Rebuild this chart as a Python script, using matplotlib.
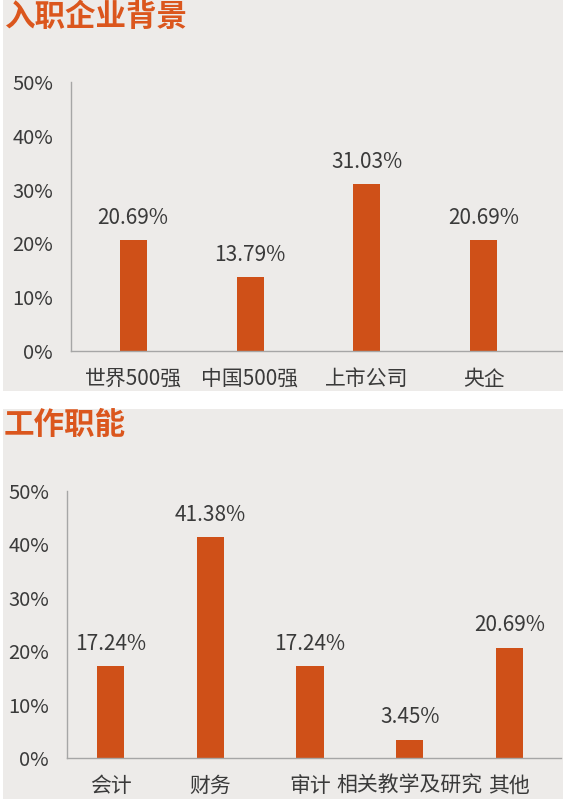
import matplotlib
matplotlib.use("Agg")
import matplotlib.pyplot as plt
from matplotlib.patches import Rectangle
from matplotlib.ticker import FuncFormatter

plt.rcParams['font.family'] = ['Noto Sans CJK SC', 'DejaVu Sans']

# ---- data ----
title1 = "入职企业背景"
cats1 = ["世界500强", "中国500强", "上市公司", "央企"]
vals1 = [20.69, 13.79, 31.03, 20.69]

title2 = "工作职能"
cats2 = ["会计", "财务", "审计", "相关教学及研究", "其他"]
vals2 = [17.24, 41.38, 17.24, 3.45, 20.69]

yticks = [0, 10, 20, 30, 40, 50]

# ---- style ----
W, H = 563, 799
BG = "#EDEBE9"
BAR = "#CF5018"
TITLE = "#DB561D"
TXT = "#3a3a3a"
AX = "#A6A6A6"

fig = plt.figure(figsize=(W / 100, H / 100), dpi=100)
fig.patch.set_facecolor("white")

def px_rect(x0, y0, x1, y1):
    return [x0 / W, 1 - y1 / H, (x1 - x0) / W, (y1 - y0) / H]

# grey panels
for (x0, y0, x1, y1) in [(3, 0, 563, 391), (3, 409, 563, 799)]:
    fig.patches.append(Rectangle((x0 / W, 1 - y1 / H), (x1 - x0) / W, (y1 - y0) / H,
                                 transform=fig.transFigure, facecolor=BG,
                                 edgecolor="none", zorder=-10))

fig.text(4 / W, 1 - 17 / H, title1, color=TITLE, fontsize=22, fontweight="black",
         ha="left", va="center")
fig.text(4 / W, 1 - 425 / H, title2, color=TITLE, fontsize=22, fontweight="black",
         ha="left", va="center")


def draw(rect, cats, vals, xlim, width):
    ax = fig.add_axes(rect)
    ax.set_zorder(5)
    ax.set_facecolor("none")
    x = list(range(len(cats)))
    bars = ax.bar(x, vals, width=width, color=BAR, zorder=2)
    ax.set_xlim(*xlim)
    ax.set_ylim(0, 50)
    ax.set_yticks(yticks)
    ax.yaxis.set_major_formatter(FuncFormatter(lambda v, p: f"{v:.0f}%"))
    ax.set_xticks(x)
    ax.set_xticklabels(cats, fontweight="light")
    for lbl in ax.get_yticklabels():
        lbl.set_fontweight("light")
    for s in ["top", "right"]:
        ax.spines[s].set_visible(False)
    for s in ["left", "bottom"]:
        ax.spines[s].set_color(AX)
        ax.spines[s].set_linewidth(1.0)
    ax.tick_params(axis="y", length=0, pad=13, labelsize=14.5, labelcolor=TXT)
    ax.tick_params(axis="x", length=0, pad=12, labelsize=15, labelcolor=TXT)
    for b, v in zip(bars, vals):
        ax.annotate(f"{v:.2f}%", (b.get_x() + b.get_width() / 2, v),
                    xytext=(0, 8), textcoords="offset points",
                    ha="center", va="bottom", fontsize=15, color=TXT,
                    fontweight="light")
    return ax

draw(px_rect(71, 82, 563, 351), cats1, vals1, (-0.532, 3.678), 0.231)
draw(px_rect(67, 491, 561, 758), cats2, vals2, (-0.44, 4.52), 0.272)

fig.savefig("out.png", dpi=100, facecolor=fig.get_facecolor())
